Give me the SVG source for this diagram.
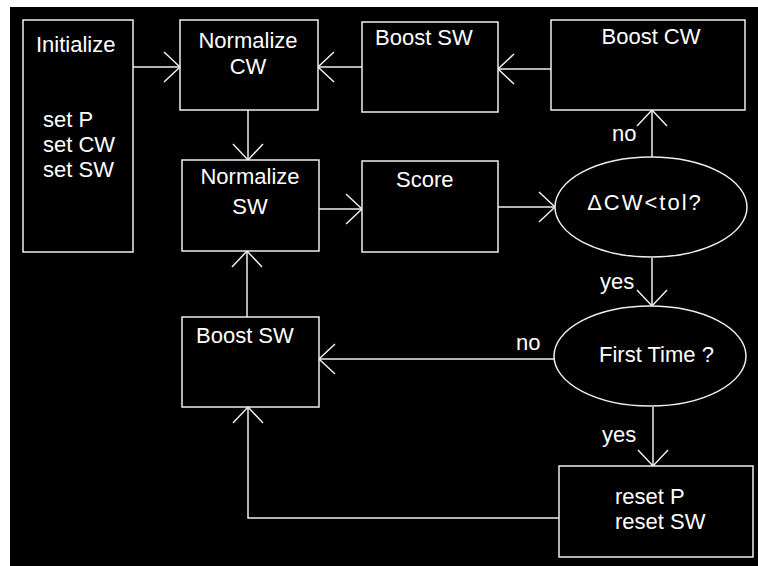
<svg xmlns="http://www.w3.org/2000/svg" width="758" height="566" viewBox="0 0 758 566">
<defs>
<style>
.box{fill:#000;stroke:#eee;stroke-width:1.5}
.ln{fill:none;stroke:#eee;stroke-width:1.5}
.t{font-family:"Liberation Sans",Arial,sans-serif;font-size:22px;fill:#fff}
.c{text-anchor:middle}
</style>
<marker id="ah" markerUnits="userSpaceOnUse" markerWidth="40" markerHeight="40" viewBox="-20 -20 40 40" refX="0" refY="0" orient="auto">
<path d="M-16,-15 L0,0 L-16,15" fill="none" stroke="#eee" stroke-width="1.5"/>
</marker>
</defs>
<rect x="0" y="0" width="758" height="566" fill="#fff"/>
<rect x="10" y="7" width="748" height="559" fill="#000"/>
<g id="connectors">
<line class="ln" x1="133" y1="67" x2="180" y2="67" marker-end="url(#ah)"/>
<line class="ln" x1="362" y1="67" x2="318" y2="67" marker-end="url(#ah)"/>
<line class="ln" x1="551" y1="69" x2="498" y2="69" marker-end="url(#ah)"/>
<line class="ln" x1="248" y1="110" x2="248" y2="160" marker-end="url(#ah)"/>
<line class="ln" x1="319" y1="209" x2="362" y2="209" marker-end="url(#ah)"/>
<line class="ln" x1="498" y1="207" x2="555" y2="207" marker-end="url(#ah)"/>
<line class="ln" x1="652" y1="157" x2="652" y2="110" marker-end="url(#ah)"/>
<line class="ln" x1="652" y1="258" x2="652" y2="306" marker-end="url(#ah)"/>
<line class="ln" x1="554" y1="359" x2="319" y2="359" marker-end="url(#ah)"/>
<line class="ln" x1="653" y1="407" x2="653" y2="466" marker-end="url(#ah)"/>
<line class="ln" x1="247" y1="317" x2="247" y2="251" marker-end="url(#ah)"/>
<polyline class="ln" points="559,518 248,518 248,407" marker-end="url(#ah)"/>
<text class="t" x="612" y="141">no</text>
<text class="t" x="600" y="289">yes</text>
<text class="t" x="516" y="350">no</text>
<text class="t" x="602" y="442">yes</text>
</g>
<g id="initialize">
<rect class="box" x="23" y="20" width="110" height="232"/>
<text class="t" x="36" y="52">Initialize</text>
<text class="t" x="43" y="127">set P</text>
<text class="t" x="43" y="152">set CW</text>
<text class="t" x="43" y="177">set SW</text>
</g>
<g id="normalize-cw">
<rect class="box" x="180" y="20" width="138" height="90"/>
<text class="t c" x="248" y="48">Normalize</text>
<text class="t c" x="248" y="74">CW</text>
</g>
<g id="boost-sw-top">
<rect class="box" x="362" y="22" width="136" height="90"/>
<text class="t" x="375" y="45">Boost SW</text>
</g>
<g id="boost-cw">
<rect class="box" x="551" y="20" width="194" height="90"/>
<text class="t c" x="651" y="44">Boost CW</text>
</g>
<g id="normalize-sw">
<rect class="box" x="182" y="160" width="137" height="91"/>
<text class="t c" x="250" y="184">Normalize</text>
<text class="t c" x="250" y="214">SW</text>
</g>
<g id="score">
<rect class="box" x="362" y="161" width="136" height="91"/>
<text class="t" x="396" y="187">Score</text>
</g>
<g id="dcw-tol">
<ellipse class="box" cx="651" cy="207" rx="96" ry="50"/>
<text class="t c" x="645" y="210" letter-spacing="2">ΔCW&lt;tol?</text>
</g>
<g id="first-time">
<ellipse class="box" cx="650" cy="356" rx="96" ry="50"/>
<text class="t" x="599" y="362">First Time ?</text>
</g>
<g id="boost-sw-bottom">
<rect class="box" x="182" y="317" width="137" height="90"/>
<text class="t" x="196" y="343">Boost SW</text>
</g>
<g id="reset">
<rect class="box" x="559" y="466" width="194" height="91"/>
<text class="t" x="615" y="504">reset P</text>
<text class="t" x="615" y="529">reset SW</text>
</g>
</svg>
